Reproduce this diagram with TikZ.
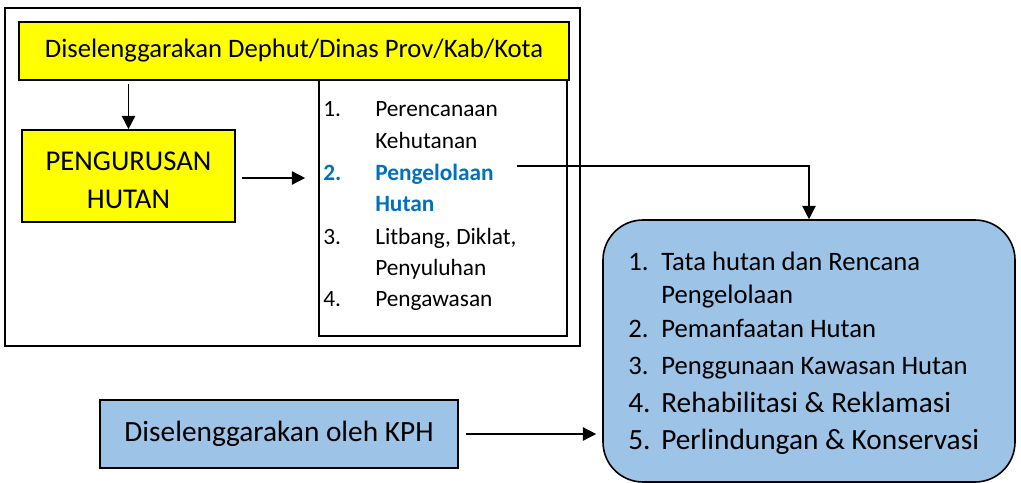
\documentclass[tikz,border=0pt]{standalone}
\usepackage{fontspec}
\setmainfont{Carlito}
\usepackage{xcolor}
\usetikzlibrary{arrows.meta,positioning}

\definecolor{boxyellow}{HTML}{FFFF00}
\definecolor{boxblue}{HTML}{9DC3E6}
\definecolor{itemblue}{HTML}{0070C0}

\begin{document}
\begin{tikzpicture}[x=0.75pt, y=-0.75pt,
    yellowbox/.style={draw, line width=1.2pt, fill=boxyellow, rectangle, text centered, inner sep=0pt},
    bluebox/.style={draw, line width=1.2pt, fill=boxblue, rectangle, inner sep=0pt},
    item/.style={anchor=base west, inner sep=0pt, font=\fontsize{17.5}{21}\selectfont},
    ritem/.style={anchor=base west, inner sep=0pt, font=\fontsize{20}{24}\selectfont},
    bitem/.style={anchor=base west, inner sep=0pt, font=\fontsize{22}{26}\selectfont},
    arrow/.style={-{Triangle[length=10pt, width=10pt]}, line width=1.1pt}
]
    \useasboundingbox (0,0) rectangle (1021,482);

    % outer frame and list box
    \draw[line width=1.5pt] (5,8) rectangle (580,346);
    \node[draw, line width=1.2pt, minimum width=248*0.75pt, minimum height=256*0.75pt, inner sep=0pt] (list) at (443,208) {};

    \node[yellowbox, minimum width=550*0.75pt, minimum height=58*0.75pt, font=\fontsize{20}{24}\selectfont] (top) at (294,51) {Diselenggarakan Dephut/Dinas Prov/Kab/Kota};
    \node[yellowbox, minimum width=213*0.75pt, minimum height=92*0.75pt, align=center, font=\fontsize{21.5}{28.5}\selectfont] (urus) at (128.5,176) {\rule{0pt}{21pt}PENGURUSAN\\HUTAN};

    % items of the list
    \node[item] (n1) at (323,116) {1.};
    \node[item] (l1) at (375,116) {Perencanaan};
    \node[item] (l1b) at (375,148) {Kehutanan};
    \node[item, text=itemblue, font=\fontsize{17.5}{21}\selectfont\bfseries] (n2) at (323,180) {2.};
    \node[item, text=itemblue, font=\fontsize{17.5}{21}\selectfont\bfseries] (l2) at (375,180) {Pengelolaan};
    \node[item, text=itemblue, font=\fontsize{17.5}{21}\selectfont\bfseries] (l2b) at (375,211) {Hutan};
    \node[item] (n3) at (323,244) {3.};
    \node[item] (l3) at (375,244) {Litbang, Diklat,};
    \node[item] (l3b) at (375,275) {Penyuluhan};
    \node[item] (n4) at (323,306) {4.};
    \node[item] (l4) at (375,306) {Pengawasan};

    % KPH side
    \node[bluebox, rounded corners=30pt, minimum width=412*0.75pt, minimum height=262*0.75pt] (kpht) at (809,351) {};
    \node[ritem] (m1) at (628,270) {1.};
    \node[ritem] (k1) at (661,270) {Tata hutan dan Rencana};
    \node[ritem] (k1b) at (661,303) {Pengelolaan};
    \node[ritem] (m2) at (628,337) {2.};
    \node[ritem] (k2) at (661,337) {Pemanfaatan Hutan};
    \node[ritem] (m3) at (628,374) {3.};
    \node[ritem] (k3) at (661,374) {Penggunaan Kawasan Hutan};
    \node[bitem] (m4) at (628,412) {4.};
    \node[bitem] (k4) at (661,412) {Rehabilitasi \& Reklamasi};
    \node[bitem] (m5) at (628,449) {5.};
    \node[bitem] (k5) at (661,449) {Perlindungan \& Konservasi};

    \node[bluebox, minimum width=358*0.75pt, minimum height=68*0.75pt, font=\fontsize{22}{26}\selectfont] (kph) at (279,434) {Diselenggarakan oleh KPH};

    % connectors
    \coordinate (c1) at (517,166);
    \draw[arrow] (top.south -| urus.north) ++(0,3) -- (urus.north);
    \draw[arrow] ([xshift=6*0.75pt, yshift=-2*0.75pt]urus.east) -- ([xshift=-13*0.75pt, yshift=-2*0.75pt]list.west |- urus.east);
    \draw[arrow] (c1) -| (kpht.north);
    \draw[arrow] ([xshift=7*0.75pt]kph.east) -- ([xshift=-6*0.75pt]kph.east -| kpht.west);
\end{tikzpicture}
\end{document}
